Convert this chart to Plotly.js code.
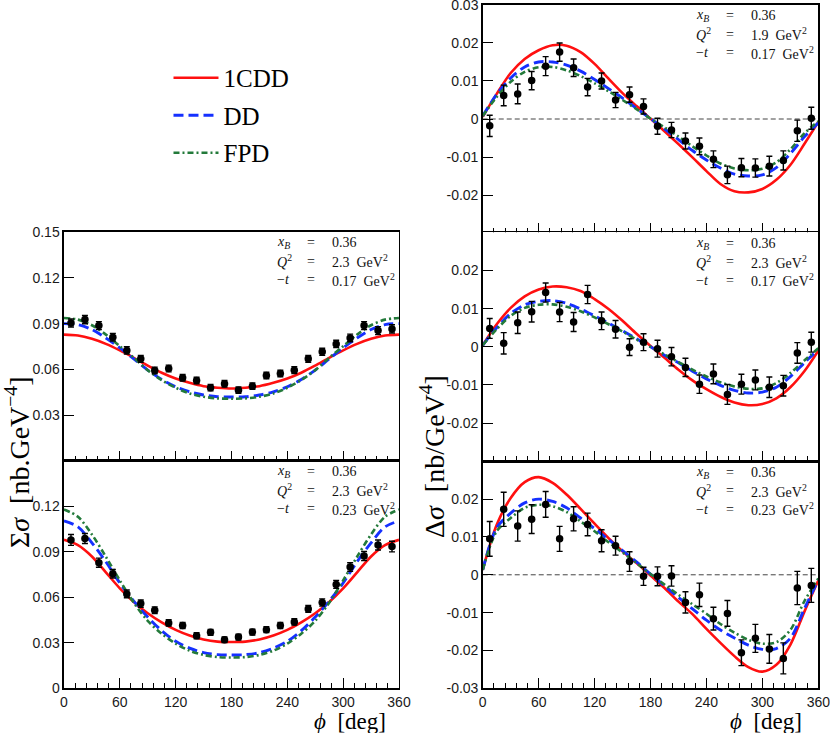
<!DOCTYPE html>
<html>
<head>
<meta charset="utf-8">
<script src="https://cdn.plot.ly/plotly-3.0.1.min.js"></script>
<style>
  html, body { margin: 0; padding: 0; background: #ffffff; }
  #chart { width: 830px; height: 733px; }
</style>
</head>
<body>
<div id="chart"></div>
<script>
// ---------- data ----------
const phiData = [7.5, 22.5, 37.5, 52.5, 67.5, 82.5, 97.5, 112.5, 127.5, 142.5, 157.5, 172.5,
                 187.5, 202.5, 217.5, 232.5, 247.5, 262.5, 277.5, 292.5, 307.5, 322.5, 337.5, 352.5];
const phiModel = [0, 15, 30, 45, 60, 75, 90, 105, 120, 135, 150, 165, 180,
                  195, 210, 225, 240, 255, 270, 285, 300, 315, 330, 345, 360];
const modelNames = ['1CDD', 'DD', 'FPD'];
const xBValue = '0.36';
const panelQ2 = ['2.3', '2.3', '1.9', '2.3', '2.3'];
const panelT  = ['0.17', '0.23', '0.17', '0.17', '0.23'];

// Panel A : Sigma sigma, Q2=2.3, -t=0.17
const sigA = [0.0904, 0.0926, 0.0887, 0.0811, 0.0724, 0.0669, 0.0593, 0.0606, 0.0545, 0.0527, 0.0480, 0.0506,
              0.0464, 0.0490, 0.0560, 0.0573, 0.0595, 0.0669, 0.0715, 0.0767, 0.0806, 0.0887, 0.0854, 0.0865];
const errA = [0.0026, 0.0027, 0.0026, 0.0025, 0.0024, 0.0023, 0.0022, 0.0022, 0.0021, 0.0021, 0.0021, 0.0021,
              0.0021, 0.0021, 0.0021, 0.0021, 0.0022, 0.0022, 0.0023, 0.0024, 0.0025, 0.0026, 0.0026, 0.0027];
const A_1CDD = [0.0828, 0.0822, 0.0800, 0.0767, 0.0724, 0.0676, 0.0625, 0.0578, 0.0540, 0.0512, 0.0490, 0.0480, 0.0475,
                0.0480, 0.0490, 0.0512, 0.0540, 0.0578, 0.0625, 0.0676, 0.0724, 0.0767, 0.0800, 0.0822, 0.0828];
const A_DD   = [0.0900, 0.0893, 0.0861, 0.0806, 0.0741, 0.0669, 0.0595, 0.0534, 0.0486, 0.0453, 0.0432, 0.0421, 0.0419,
                0.0421, 0.0432, 0.0453, 0.0486, 0.0534, 0.0595, 0.0669, 0.0741, 0.0806, 0.0861, 0.0893, 0.0900];
const A_FPD  = [0.0937, 0.0926, 0.0889, 0.0828, 0.0752, 0.0676, 0.0595, 0.0530, 0.0480, 0.0442, 0.0421, 0.0410, 0.0408,
                0.0410, 0.0421, 0.0442, 0.0480, 0.0530, 0.0595, 0.0676, 0.0752, 0.0828, 0.0889, 0.0926, 0.0937];

// Panel B : Sigma sigma, Q2=2.3, -t=0.23
const sigB = [0.0979, 0.0988, 0.0829, 0.0756, 0.0623, 0.0559, 0.0515, 0.0431, 0.0415, 0.0347, 0.0369, 0.0320,
              0.0338, 0.0371, 0.0387, 0.0415, 0.0438, 0.0524, 0.0566, 0.0685, 0.0800, 0.0873, 0.0946, 0.0935];
const errB = [0.0036, 0.0033, 0.0030, 0.0028, 0.0026, 0.0024, 0.0022, 0.0021, 0.0020, 0.0020, 0.0019, 0.0019,
              0.0019, 0.0019, 0.0020, 0.0020, 0.0021, 0.0022, 0.0024, 0.0026, 0.0028, 0.0030, 0.0033, 0.0035];
const B_1CDD = [0.0980, 0.0945, 0.0870, 0.0765, 0.0660, 0.0570, 0.0495, 0.0435, 0.0385, 0.0348, 0.0322, 0.0308, 0.0305,
                0.0308, 0.0322, 0.0348, 0.0385, 0.0435, 0.0495, 0.0570, 0.0660, 0.0765, 0.0870, 0.0945, 0.0980];
const B_DD   = [0.1105, 0.1065, 0.0960, 0.0835, 0.0695, 0.0575, 0.0470, 0.0380, 0.0310, 0.0265, 0.0235, 0.0222, 0.0220,
                0.0222, 0.0235, 0.0265, 0.0310, 0.0380, 0.0470, 0.0575, 0.0695, 0.0835, 0.0960, 0.1065, 0.1105];
const B_FPD  = [0.1180, 0.1132, 0.1015, 0.0868, 0.0712, 0.0565, 0.0445, 0.0360, 0.0295, 0.0248, 0.0220, 0.0206, 0.0203,
                0.0206, 0.0220, 0.0248, 0.0295, 0.0360, 0.0445, 0.0565, 0.0712, 0.0868, 0.1015, 0.1132, 0.1180];

// Panel C : Delta sigma, Q2=1.9, -t=0.17
const sigC = [-0.0018, 0.0062, 0.0066, 0.0101, 0.0139, 0.0176, 0.0135, 0.0084, 0.0100, 0.0050, 0.0064, 0.0033,
              -0.0019, -0.0029, -0.0058, -0.0072, -0.0106, -0.0147, -0.0128, -0.0129, -0.0124, -0.0109, -0.0031, 0.0002];
const errC = [0.0028, 0.0027, 0.0026, 0.0024, 0.0025, 0.0024, 0.0023, 0.0023, 0.0021, 0.0020, 0.0020, 0.0020,
              0.0021, 0.0020, 0.0021, 0.0022, 0.0022, 0.0023, 0.0024, 0.0024, 0.0026, 0.0025, 0.0028, 0.0029];
const C_1CDD = [0.0006, 0.0066, 0.0121, 0.0158, 0.0181, 0.0194, 0.0193, 0.0176, 0.0145, 0.0106, 0.0068, 0.0034, 0.0001,
                -0.0032, -0.0066, -0.0101, -0.0137, -0.0171, -0.0190, -0.0193, -0.0184, -0.0160, -0.0121, -0.0066, -0.0008];
const C_DD   = [0.0008, 0.0065, 0.0108, 0.0137, 0.0150, 0.0150, 0.0142, 0.0126, 0.0104, 0.0080, 0.0055, 0.0028, 0.0001,
                -0.0026, -0.0054, -0.0083, -0.0108, -0.0129, -0.0145, -0.0150, -0.0147, -0.0128, -0.0091, -0.0047, -0.0010];
const C_FPD  = [0.0008, 0.0058, 0.0098, 0.0124, 0.0136, 0.0137, 0.0128, 0.0113, 0.0094, 0.0073, 0.0050, 0.0026, 0.0001,
                -0.0022, -0.0046, -0.0072, -0.0096, -0.0117, -0.0130, -0.0135, -0.0131, -0.0114, -0.0080, -0.0038, -0.0006];

// Panel D : Delta sigma, Q2=2.3, -t=0.17
const sigD = [0.0048, 0.0009, 0.0063, 0.0092, 0.0142, 0.0091, 0.0065, 0.0137, 0.0068, 0.0046, -0.0001, 0.0012,
              -0.0005, -0.0026, -0.0054, -0.0098, -0.0071, -0.0125, -0.0098, -0.0087, -0.0106, -0.0102, -0.0016, 0.0012];
const errD = [0.0026, 0.0028, 0.0028, 0.0027, 0.0025, 0.0025, 0.0025, 0.0024, 0.0023, 0.0023, 0.0022, 0.0022,
              0.0022, 0.0024, 0.0024, 0.0024, 0.0026, 0.0026, 0.0026, 0.0026, 0.0027, 0.0027, 0.0027, 0.0026];
const D_1CDD = [0.0004, 0.0059, 0.0102, 0.0132, 0.0150, 0.0158, 0.0156, 0.0146, 0.0125, 0.0099, 0.0068, 0.0034, 0.0002,
                -0.0029, -0.0060, -0.0088, -0.0111, -0.0131, -0.0146, -0.0153, -0.0150, -0.0135, -0.0106, -0.0064, -0.0010];
const D_DD   = [0.0004, 0.0050, 0.0087, 0.0110, 0.0119, 0.0121, 0.0114, 0.0099, 0.0081, 0.0062, 0.0042, 0.0021, 0.0000,
                -0.0022, -0.0042, -0.0064, -0.0084, -0.0101, -0.0114, -0.0121, -0.0119, -0.0106, -0.0078, -0.0042, -0.0007];
const D_FPD  = [0.0004, 0.0046, 0.0081, 0.0102, 0.0110, 0.0111, 0.0105, 0.0093, 0.0077, 0.0059, 0.0040, 0.0019, 0.0000,
                -0.0020, -0.0040, -0.0060, -0.0078, -0.0093, -0.0104, -0.0110, -0.0109, -0.0095, -0.0069, -0.0036, -0.0004];

// Panel E : Delta sigma, Q2=2.3, -t=0.23
const sigE = [0.0095, 0.0173, 0.0129, 0.0147, 0.0186, 0.0095, 0.0148, 0.0133, 0.0090, 0.0077, 0.0035, -0.0004,
              -0.0004, -0.0003, -0.0073, -0.0053, -0.0116, -0.0102, -0.0206, -0.0168, -0.0196, -0.0221, -0.0035, -0.0028];
const errE = [0.0046, 0.0045, 0.0040, 0.0038, 0.0034, 0.0033, 0.0032, 0.0030, 0.0029, 0.0025, 0.0026, 0.0024,
              0.0025, 0.0027, 0.0028, 0.0031, 0.0030, 0.0034, 0.0034, 0.0037, 0.0038, 0.0041, 0.0044, 0.0045];
const E_1CDD = [0.0013, 0.0132, 0.0203, 0.0245, 0.0258, 0.0243, 0.0212, 0.0174, 0.0135, 0.0097, 0.0062, 0.0031, -0.0002,
                -0.0035, -0.0071, -0.0104, -0.0143, -0.0180, -0.0215, -0.0244, -0.0256, -0.0238, -0.0185, -0.0098, -0.0015];
const E_DD   = [0.0013, 0.0124, 0.0163, 0.0190, 0.0200, 0.0194, 0.0177, 0.0150, 0.0122, 0.0093, 0.0064, 0.0034, 0.0002,
                -0.0029, -0.0060, -0.0090, -0.0120, -0.0146, -0.0167, -0.0186, -0.0197, -0.0195, -0.0168, -0.0090, -0.0013];
const E_FPD  = [0.0013, 0.0115, 0.0150, 0.0177, 0.0185, 0.0181, 0.0166, 0.0141, 0.0115, 0.0086, 0.0059, 0.0031, 0.0002,
                -0.0026, -0.0053, -0.0078, -0.0103, -0.0130, -0.0153, -0.0172, -0.0182, -0.0178, -0.0146, -0.0070, -0.0010];

const phiTicks = [0, 60, 120, 180, 240, 300, 360];

// ---------- panel setup ----------
const panels = [
  { xa: 'x',  ya: 'y',  sig: sigA, err: errA, m: [A_1CDD, A_DD, A_FPD], kind: 'sum',
    xd: [0.0771, 0.4807], yd: [0.3711, 0.6835], yt: [0.03, 0.06, 0.09, 0.12, 0.15], xlab: false },
  { xa: 'x2', ya: 'y2', sig: sigB, err: errB, m: [B_1CDD, B_DD, B_FPD], kind: 'sum',
    xd: [0.0771, 0.4807], yd: [0.0610, 0.3711], yt: [0, 0.03, 0.06, 0.09, 0.12], xlab: true },
  { xa: 'x3', ya: 'y3', sig: sigC, err: errC, m: [C_1CDD, C_DD, C_FPD], kind: 'delta',
    xd: [0.5816, 0.9859], yd: [0.6821, 0.9932], yt: [-0.02, -0.01, 0, 0.01, 0.02, 0.03], xlab: false },
  { xa: 'x4', ya: 'y4', sig: sigD, err: errD, m: [D_1CDD, D_DD, D_FPD], kind: 'delta',
    xd: [0.5816, 0.9859], yd: [0.3707, 0.6831], yt: [-0.02, -0.01, 0, 0.01, 0.02], xlab: false },
  { xa: 'x5', ya: 'y5', sig: sigE, err: errE, m: [E_1CDD, E_DD, E_FPD], kind: 'delta',
    xd: [0.5816, 0.9859], yd: [0.0610, 0.3707], yt: [-0.03, -0.02, -0.01, 0, 0.01, 0.02], xlab: true }
];

const lineStyles = [
  { color: '#ff1010', width: 2.6, dash: 'solid' },
  { color: '#1530ff', width: 2.9, dash: '10px,5px' },
  { color: '#237a3a', width: 2.6, dash: '6px,3px,2px,3px' }
];

const fmt = v => (v === 0 ? '0' : (v < 0 ? '-' : '') + Math.abs(v).toFixed(2));

const serif = 'Liberation Serif';
const nb = '\u00a0';
const traces = [];
const layout = {
  width: 830, height: 733,
  margin: { l: 0, r: 0, t: 0, b: 0 },
  paper_bgcolor: '#ffffff', plot_bgcolor: '#ffffff',
  showlegend: true,
  legend: {
    x: 0.203, y: 0.925, xanchor: 'left', yanchor: 'top',
    font: { family: serif, size: 25, color: '#000' },
    bgcolor: 'rgba(0,0,0,0)', borderwidth: 0,
    tracegroupgap: 2, traceorder: 'grouped', itemwidth: 45
  },
  annotations: [],
  shapes: []
};

const tickFont = { family: 'Liberation Sans', size: 14, color: '#1a1a1a' };

panels.forEach((p, i) => {
  // model curves
  p.m.forEach((vals, k) => {
    traces.push({
      type: 'scatter', mode: 'lines', x: phiModel, y: vals,
      xaxis: p.xa, yaxis: p.ya,
      name: modelNames[k], legendgroup: 'g' + k,
      showlegend: i === 0,
      line: { color: lineStyles[k].color, width: lineStyles[k].width, dash: lineStyles[k].dash, shape: 'spline', smoothing: 0.9 },
      hoverinfo: 'skip'
    });
  });
  // data points
  traces.push({
    type: 'scatter', mode: 'markers', x: phiData, y: p.sig,
    xaxis: p.xa, yaxis: p.ya, showlegend: false,
    marker: { color: '#000', size: 7.5 },
    error_y: { type: 'data', array: p.err, visible: true, color: '#000', thickness: 1.4, width: 3 }
  });

  const n = i === 0 ? '' : String(i + 1);
  layout['xaxis' + n] = {
    domain: p.xd, anchor: p.ya, range: [0, 360],
    tickvals: phiTicks, ticktext: phiTicks.map(String), showticklabels: p.xlab,
    ticks: 'inside', ticklen: 10, tickwidth: 1, tickcolor: '#000',
    minor: { dtick: 12, ticks: 'inside', ticklen: 5, tickwidth: 1, tickcolor: '#000' },
    showline: true, linecolor: '#000', linewidth: 1.5, mirror: true,
    showgrid: false, zeroline: false, tickfont: tickFont, ticklabeloverflow: 'allow'
  };
  layout['yaxis' + n] = {
    domain: p.yd, anchor: p.xa,
    range: p.kind === 'sum' ? [0, 0.15] : [-0.03, 0.03],
    tickvals: p.yt, ticktext: p.yt.map(fmt),
    ticks: 'inside', ticklen: 10, tickwidth: 1, tickcolor: '#000',
    showline: true, linecolor: '#000', linewidth: 1.5, mirror: true,
    showgrid: false, zeroline: false, tickfont: tickFont, ticklabeloverflow: 'allow'
  };

  if (p.kind === 'delta') {
    layout.shapes.push({
      type: 'line', xref: p.xa + ' domain', x0: 0, x1: 1, yref: p.ya, y0: 0, y1: 0,
      line: { color: '#444', width: 1, dash: '5px,3px' }, layer: 'below'
    });
  }

  // kinematics text block
  const right = p.xd[1] * 830;
  const top = (1 - p.yd[1]) * 733;
  const labels = ['<i>x</i><sub><i>B</i></sub>', '<i>Q</i><sup>2</sup>', '\u2212<i>t</i>'];
  const values = [xBValue, panelQ2[i] + nb + nb + 'GeV<sup>2</sup>', panelT[i] + nb + nb + 'GeV<sup>2</sup>'];
  const rowOff = [11, 29.5, 48];
  for (let r = 0; r < 3; r++) {
    const yy = 1 - (top + rowOff[r]) / 733;
    const f = { family: serif, size: 14, color: '#111' };
    layout.annotations.push({ xref: 'paper', yref: 'paper', x: (right - 124) / 830, y: yy, xanchor: 'left', yanchor: 'middle', text: labels[r], showarrow: false, font: f });
    layout.annotations.push({ xref: 'paper', yref: 'paper', x: (right - 88) / 830, y: yy, xanchor: 'center', yanchor: 'middle', text: '=', showarrow: false, font: f });
    layout.annotations.push({ xref: 'paper', yref: 'paper', x: (right - 69) / 830, y: yy, xanchor: 'left', yanchor: 'middle', text: values[r], showarrow: false, font: f });
  }
});

// axis titles (as positioned text)
layout.annotations.push({
  xref: 'paper', yref: 'paper', x: 18 / 830, y: 1 - 462 / 733, xanchor: 'center', yanchor: 'middle',
  textangle: -90, showarrow: false, text: '\u03a3<i>\u03c3</i>' + nb + nb + '[nb.GeV<sup>\u22124</sup>]',
  font: { family: serif, size: 28, color: '#000' }
});
layout.annotations.push({
  xref: 'paper', yref: 'paper', x: 432 / 830, y: 1 - 457 / 733, xanchor: 'center', yanchor: 'middle',
  textangle: -90, showarrow: false, text: '\u0394<i>\u03c3</i>' + nb + nb + '[nb/GeV<sup>4</sup>]',
  font: { family: serif, size: 28, color: '#000' }
});
[388, 804].forEach(xr => {
  layout.annotations.push({
    xref: 'paper', yref: 'paper', x: xr / 830, y: 1 - 721 / 733, xanchor: 'right', yanchor: 'middle',
    showarrow: false, text: '<i>\u03d5</i>' + nb + nb + '[deg]',
    font: { family: serif, size: 23, color: '#000' }
  });
});

Plotly.newPlot('chart', traces, layout, { staticPlot: true, displayModeBar: false });
</script>
</body>
</html>
